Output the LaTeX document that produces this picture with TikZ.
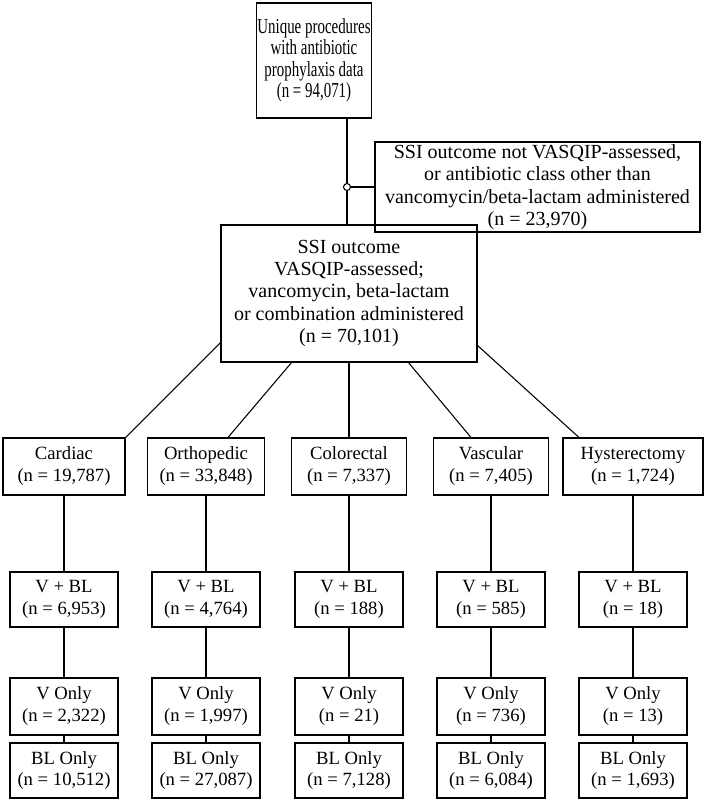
\documentclass[tikz,border=0pt]{standalone}
\usepackage{fontspec}
\setmainfont{Liberation Serif}
\newfontfamily\narrowser[FakeStretch=0.7]{Liberation Serif}
\usetikzlibrary{calc}
\begin{document}
\begin{tikzpicture}[x=0.75pt,y=-0.75pt,
 box/.style={draw,line width=0.8pt,align=center,inner sep=1pt,font=\fontsize{14}{16.5}\selectfont},
 big/.style={font=\fontsize{15}{16.8}\selectfont},
 ln/.style={line width=0.8pt}]
\useasboundingbox (0,0) rectangle (706,800);
\node[box,font=\narrowser\fontsize{16}{16}\selectfont,minimum width=112*0.75pt,minimum height=115*0.75pt] (top) at (314,60.5) {Unique procedures\\with antibiotic\\prophylaxis data\\(n = 94,071)};
\node[box,big,minimum width=325*0.75pt,minimum height=90*0.75pt] (exc) at (537.5,187) {SSI outcome not VASQIP-assessed,\\or antibiotic class other than\\vancomycin/beta-lactam administered\\(n = 23,970)};
\node[box,big,minimum width=256*0.75pt,minimum height=137*0.75pt] (mid) at (349,293.5) {SSI outcome\\VASQIP-assessed;\\vancomycin, beta-lactam\\or combination administered\\(n = 70,101)};
\coordinate (j) at (347,187);
\draw[ln] (347,118) -- (347,225);
\draw[ln] (j) -- (exc.west);
\draw[ln,fill=white] (j) circle (3.5);
\def\row#1#2#3#4#5#6#7{%
 \node[box,minimum width=#3*0.75pt,minimum height=57*0.75pt] (#1a) at (#2,466.5) {#4};
 \node[box,minimum width=108*0.75pt,minimum height=55*0.75pt] (#1b) at (#2,599.5) {V + BL\\(n = #5)};
 \node[box,minimum width=108*0.75pt,minimum height=57*0.75pt] (#1c) at (#2,706.5) {V Only\\(n = #6)};
 \node[box,minimum width=108*0.75pt,minimum height=55*0.75pt] (#1d) at (#2,770.5) {BL Only\\(n = #7)};
 \draw[ln] (#1a) -- (#1b); \draw[ln] (#1b) -- (#1c); \draw[ln] (#1c) -- (#1d);}
\row{c}{64}{122}{Cardiac\\(n = 19,787)}{6,953}{2,322}{10,512}
\row{o}{206}{117}{Orthopedic\\(n = 33,848)}{4,764}{1,997}{27,087}
\row{l}{349}{115}{Colorectal\\(n = 7,337)}{188}{21}{7,128}
\row{v}{491}{115}{Vascular\\(n = 7,405)}{585}{736}{6,084}
\row{h}{633}{140}{Hysterectomy\\(n = 1,724)}{18}{13}{1,693}
\draw[ln] (221,342) -- (ca.north east);
\draw[ln] (292,362) -- ($(oa.north)+(22,0)$);
\draw[ln] (mid.south) -- (la.north);
\draw[ln] (408,362) -- ($(va.north)+(-20,0)$);
\draw[ln] (477,345) -- ($(ha.north)+(-54,0)$);
\end{tikzpicture}
\end{document}
